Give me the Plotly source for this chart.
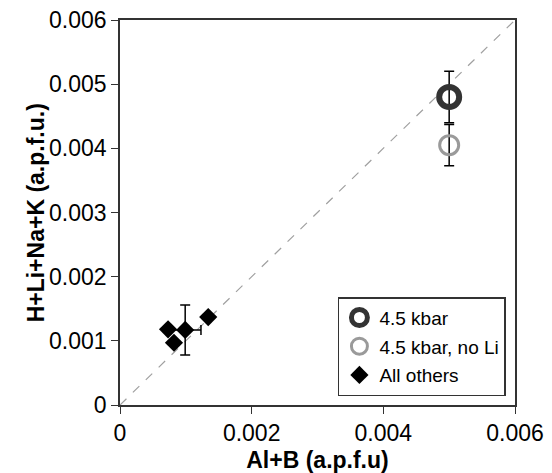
import plotly.graph_objects as go

# Data
kbar_x = [0.005]
kbar_y = [0.0048]
kbar_err = [0.0004]

noli_x = [0.005]
noli_y = [0.00405]
noli_err = [0.00032]

others_x = [0.00073, 0.00082, 0.00099, 0.00134]
others_y = [0.00118, 0.00097, 0.00117, 0.00137]
others_yerr = [0.0, 0.0, 0.00039, 0.0]
others_xerr = [0.0, 0.0, 0.00024, 0.0]

diag = [0, 0.006]

x_ticks = [0, 0.002, 0.004, 0.006]
x_labels = ["0", "0.002", "0.004", "0.006"]
y_ticks = [0, 0.001, 0.002, 0.003, 0.004, 0.005, 0.006]
y_labels = ["0", "0.001", "0.002", "0.003", "0.004", "0.005", "0.006"]

fig = go.Figure()

fig.add_trace(go.Scatter(
    x=diag, y=diag, mode="lines",
    line=dict(color="#a0a0a0", width=1.2, dash="dash"),
    showlegend=False, hoverinfo="skip"))

fig.add_trace(go.Scatter(
    x=others_x, y=others_y, mode="markers", name="All others", legendgroup="c",
    legendrank=3,
    marker=dict(symbol="diamond", size=14, color="black"),
    error_y=dict(type="data", array=others_yerr, color="black", thickness=1.5, width=5),
    error_x=dict(type="data", array=others_xerr, color="black", thickness=1.5, width=5),
))

fig.add_trace(go.Scatter(
    x=noli_x, y=noli_y, mode="markers", name="4.5 kbar, no Li", legendgroup="b",
    legendrank=2,
    marker=dict(symbol="circle-open", size=19, color="#9a9a9a", line=dict(width=3, color="#9a9a9a")),
    error_y=dict(type="data", array=noli_err, color="black", thickness=1.5, width=5),
))

fig.add_trace(go.Scatter(
    x=kbar_x, y=kbar_y, mode="markers", name="4.5 kbar", legendgroup="a",
    legendrank=1,
    marker=dict(symbol="circle-open", size=20, color="#333333", line=dict(width=6, color="#333333")),
    error_y=dict(type="data", array=kbar_err, color="black", thickness=1.5, width=5),
))

fig.update_layout(
    width=552, height=473,
    margin=dict(l=120, r=37, t=20, b=68),
    plot_bgcolor="white", paper_bgcolor="white",
    font=dict(family="Arial, Liberation Sans, sans-serif", size=23, color="black"),
    legend=dict(
        x=0.977, y=0.023, xanchor="right", yanchor="bottom",
        bgcolor="white", bordercolor="#333333", borderwidth=1.5,
        font=dict(size=19), traceorder="grouped",
        itemsizing="trace", tracegroupgap=1,
    ),
    annotations=[dict(
        text="<b>H+Li+Na+K (a.p.f.u.)</b>", textangle=-90,
        xref="paper", yref="paper", x=-0.213, y=0.5,
        xanchor="center", yanchor="middle", showarrow=False,
        font=dict(size=23),
    )],
)

fig.update_xaxes(
    range=[0, 0.006], tickvals=x_ticks, ticktext=x_labels, automargin=False,
    showgrid=False, zeroline=False, showline=True, linecolor="#333333", linewidth=1.5,
    mirror=True, ticks="outside", ticklen=7, tickcolor="#333333",
    title=dict(text="<b>Al+B (a.p.f.u)</b>", font=dict(size=23)),
)
fig.update_yaxes(
    range=[0, 0.006], tickvals=y_ticks, ticktext=y_labels, automargin=False,
    showgrid=False, zeroline=False, showline=True, linecolor="#333333", linewidth=1.5,
    mirror=True, ticks="outside", ticklen=7, tickcolor="#333333",
)

fig.write_html("out.html")
